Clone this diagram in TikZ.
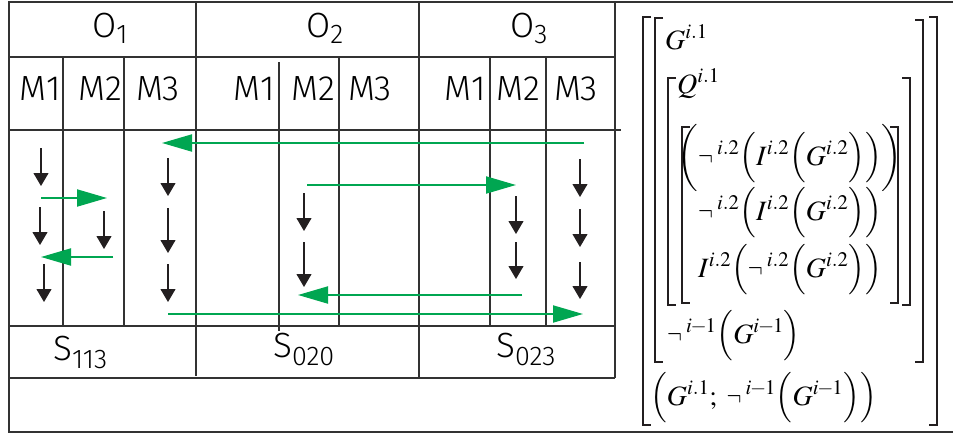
\documentclass[tikz,border=0pt]{standalone}
\usepackage{mathptmx}
\usepackage[no-math]{fontspec}
\usepackage{graphicx}
\usepackage{xcolor}
\usepackage{tikz}
\usetikzlibrary{arrows.meta}
\newfontfamily\tabfont{Fira Sans Light}
\definecolor{flowgreen}{RGB}{0, 166, 81}
\definecolor{gridgray}{RGB}{50, 50, 50}
\definecolor{inkblack}{RGB}{35, 31, 32}
\newcommand\lowsub[2][7pt]{\raisebox{-#1}{\fontsize{27}{29}\selectfont #2}}
\newcommand\lneg{\mathord{\scalebox{0.8}[1]{$\neg$}\kern4pt}}
\newcommand\imin{i\mkern-1mu-\mkern-1mu1}
\tikzset{
  gridline/.style={draw=gridgray, line width=1.1pt},
  frameline/.style={draw=gridgray, line width=2.2pt},
  downarrow/.style={-{Triangle[length=13pt, width=15pt]}, draw=inkblack,
              fill=inkblack, line width=1.1pt},
  swaparrow/.style={-{Triangle[length=30pt, width=17pt]}, draw=flowgreen,
              fill=flowgreen, line width=2pt},
  brak/.style={draw=inkblack, line width=2pt},
  lbl/.style={font=\tabfont\fontsize{35}{38}\selectfont, inner sep=0pt},
  mth/.style={font=\fontsize{28}{30}\selectfont, inner sep=0pt},
}

\begin{document}
\begin{tikzpicture}[x=1pt, y=-1pt]
  \useasboundingbox (0,0) rectangle (953,434);

  % outer frame, open on the right
  \draw[frameline] (953,2) -- (9,2) -- (9,432) -- (953,432);

  % table grid
  \draw[gridline] (9,57) -- (615,57);
  \draw[gridline] (9,130) -- (621,130);
  \draw[gridline] (9,326) -- (615,326);
  \draw[gridline] (9,378) -- (615,378);
  \draw[gridline] (615,2) -- (615,378);
  \draw[gridline] (196,2) -- (196,376);
  \draw[gridline] (419,2) -- (419,378);
  \draw[gridline] (279,62) -- (279,331);
  \foreach \x in {63, 124, 339, 490, 546}
    \draw[gridline] (\x,57) -- (\x,326);

  % headers
  \node[lbl, anchor=base west] (o1) at (92,37) {O\lowsub[6pt]{1}};
  \node[lbl, anchor=base west] (o2) at (306,37) {O\lowsub[6pt]{2}};
  \node[lbl, anchor=base west] (o3) at (510,37) {O\lowsub[6pt]{3}};

  \foreach \x/\m [count=\i] in {40/1, 100/2, 158/3, 254/1, 313/2, 370/3, 465/1, 518/2, 576/3}
    \node[lbl, anchor=base] (m\i) at (\x,100) {M\m};

  \node[lbl, anchor=base west] (s1) at (53,360) {S\lowsub[8pt]{113}};
  \node[lbl, anchor=base west] (s2) at (273,357) {S\lowsub[8pt]{020}};
  \node[lbl, anchor=base west] (s3) at (496,357) {S\lowsub[8pt]{023}};

  % operation steps
  \foreach \x/\ya/\yb in {41/148/186, 40/207/245, 44/264/302, 104/211/249,
                          168/158/196, 168/208/253, 168/264/302,
                          304/193/231, 304/242/287, 516/196/234, 516/242/279,
                          580/159/197, 580/209/247, 580/262/299}
    \draw[downarrow] (\x,\ya) -- (\x,\yb);

  % transfers between machines
  \draw[swaparrow] (584,143) -- (162,143);
  \draw[swaparrow] (41,198) -- (107,198);
  \draw[swaparrow] (113,257) -- (41,257);
  \draw[swaparrow] (307,185) -- (516,185);
  \draw[swaparrow] (522,295) -- (298,295);
  \draw[swaparrow] (168,314) -- (583,314);

  % brackets
  \foreach \x/\ya/\yb in {643/17/425, 655/18/362, 668/78/305, 682/127/303}
    \draw[brak] (\x+8,\ya) -- (\x,\ya) -- (\x,\yb) -- (\x+8,\yb);
  \foreach \x/\ya/\yb in {937/17/425, 923/20/362, 910/78/305, 898/127/303}
    \draw[brak] (\x-8,\ya) -- (\x,\ya) -- (\x,\yb) -- (\x-8,\yb);

  % expressions
  \node[mth, anchor=base west] (g1) at (665,49) {$G^{i.1}$};
  \node[mth, anchor=base west] (q1) at (677,93) {$Q^{i.1}$};
  \node[mth, anchor=base] (r1) at (790,165)
    {$\bigg(\lneg^{i.2}\Big(I^{i.2}\Big(G^{i.2}\Big)\Big)\bigg)$};
  \node[mth, anchor=base] (r2) at (790,220)
    {$\lneg^{i.2}\Big(I^{i.2}\Big(G^{i.2}\Big)\Big)$};
  \node[mth, anchor=base] (r3) at (790,277)
    {$I^{i.2}\Big(\lneg^{i.2}\Big(G^{i.2}\Big)\Big)$};
  \node[mth, anchor=base west] (n1) at (667,343)
    {$\lneg^{\imin}\Big(G^{\imin}\Big)$};
  \node[mth, anchor=base west] (pr) at (650,405)
    {$\Big(G^{i.1};\;\lneg^{\imin}\Big(G^{\imin}\Big)\Big)$};
\end{tikzpicture}
\end{document}
